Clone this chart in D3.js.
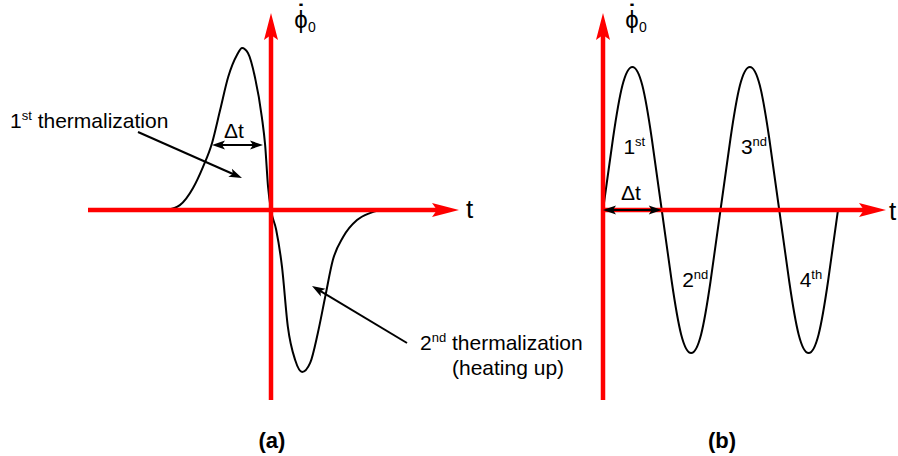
<!DOCTYPE html>
<html lang="en">
<head>
  <meta charset="UTF-8" />
  <title>Thermalization sketch</title>
  <script src="https://d3js.org/d3.v7.min.js"></script>
  <style>
    body { margin: 0; background: #fff; }
    svg { display: block; background: #fff; }
    text { font-family: Arial, "Liberation Sans", sans-serif; fill: #000; }
  </style>
</head>
<body>
  <svg width="898" height="456"></svg>

  <script>
    // (a) single pulse: t in arbitrary units, phi normalised to the peak
    const pulseT   = [-2.84, -2.49, -2.13, -1.86, -1.61, -1.39, -1.17, -0.93, -0.79, -0.63, -0.44, -0.25, -0.16, -0.08, 0,
                      0.14, 0.30, 0.46, 0.66, 0.85, 1.07, 1.28, 1.48, 1.69, 1.97, 2.35, 2.70, 2.98];
    const pulsePhi = [0, 0.03, 0.136, 0.265, 0.414, 0.617, 0.821, 0.957, 1, 0.969, 0.821, 0.574, 0.40, 0.142, 0,
                      -0.12, -0.35, -0.72, -0.926, -1, -0.944, -0.759, -0.537, -0.309, -0.167, -0.062, -0.019, 0];

    // (b) oscillation: t in half periods
    const oscT   = [0, 0.17, 0.33, 0.5, 0.67, 0.83, 1, 1.17, 1.33, 1.5, 1.67, 1.83, 2,
                    2.17, 2.33, 2.5, 2.67, 2.83, 3, 3.17, 3.33, 3.5, 3.67, 3.83, 4];
    const oscPhi = [0, 0.5, 0.87, 1, 0.87, 0.5, 0, -0.5, -0.87, -1, -0.87, -0.5, 0,
                    0.5, 0.87, 1, 0.87, 0.5, 0, -0.5, -0.87, -1, -0.87, -0.5, 0];

    const humpLabels = [
      { t: 0.5, phi: 0.45, base: "1", sup: "st" },
      { t: 2.5, phi: 0.45, base: "3", sup: "nd" },
      { t: 1.5, phi: -0.48, base: "2", sup: "nd" },
      { t: 3.5, phi: -0.48, base: "4", sup: "th" }
    ];

    const svg = d3.select("svg");
    const RED = "#ff0000";

    // scales per panel
    const xA = d3.scaleLinear().domain([-5, 5]).range([88, 454]);
    const yA = d3.scaleLinear().domain([-1, 1]).range([372, 48]);
    const xB = d3.scaleLinear().domain([0, 4.8]).range([603, 885]);
    const yB = d3.scaleLinear().domain([-1, 1]).range([353, 67]);

    // stealth style arrow head, tip at (x,y) pointing along angle (radians)
    function head(g, x, y, ang, len, hw, notch, color) {
      const c = Math.cos(ang), s = Math.sin(ang);
      const pt = (a, b) => [x - a * c - b * s, y - a * s + b * c];
      const p = d3.path();
      const p0 = pt(0, 0), p1 = pt(len, hw), p2 = pt(len - notch, 0), p3 = pt(len, -hw);
      p.moveTo(...p0); p.lineTo(...p1); p.lineTo(...p2); p.lineTo(...p3); p.closePath();
      g.append("path").attr("d", p.toString()).attr("fill", color);
    }

    function axisArrow(g, x1, y1, x2, y2) {
      const ang = Math.atan2(y2 - y1, x2 - x1);
      g.append("line")
        .attr("x1", x1).attr("y1", y1)
        .attr("x2", x2 - 20 * Math.cos(ang)).attr("y2", y2 - 20 * Math.sin(ang))
        .attr("stroke", RED).attr("stroke-width", 4.5);
      head(g, x2, y2, ang, 27, 7, 5, RED);
    }

    function blackArrow(g, x1, y1, x2, y2, both) {
      const ang = Math.atan2(y2 - y1, x2 - x1);
      const back = 8;
      g.append("line")
        .attr("x1", both ? x1 + back * Math.cos(ang) : x1)
        .attr("y1", both ? y1 + back * Math.sin(ang) : y1)
        .attr("x2", x2 - back * Math.cos(ang)).attr("y2", y2 - back * Math.sin(ang))
        .attr("stroke", "#000").attr("stroke-width", 2);
      head(g, x2, y2, ang, 13, 4.5, 3, "#000");
      if (both) head(g, x1, y1, ang + Math.PI, 13, 4.5, 3, "#000");
    }

    function supText(g, x, y, base, sup, size) {
      const t = g.append("text").attr("x", x).attr("y", y).attr("font-size", size);
      t.append("tspan").text(base);
      t.append("tspan").attr("dy", -8).attr("font-size", 13).text(sup);
      return t;
    }

    // phi with a dot above, subscript 0 (x = position of the phi stem)
    function phiLabel(g, x) {
      const t = g.append("text").attr("font-family", "'DejaVu Sans', sans-serif");
      t.append("tspan").attr("x", x).attr("y", 28).attr("text-anchor", "middle")
        .attr("font-size", 24).text("\u03D5");
      t.append("tspan").attr("x", x).attr("y", 21).attr("text-anchor", "middle")
        .attr("font-size", 24).attr("font-weight", "bold").text("\u02D9");
      t.append("tspan").attr("x", x + 7).attr("y", 32).attr("text-anchor", "start")
        .attr("font-family", "Arial, 'Liberation Sans', sans-serif")
        .attr("font-size", 14).text("0");
    }

    const line = (xs, ys) => d3.line()
      .x(i => xs(i.t)).y(i => ys(i.p))
      .curve(d3.curveMonotoneX);

    // ---- panel (a)
    const gA = svg.append("g");
    const pulse = pulseT.map((t, i) => ({ t, p: pulsePhi[i] }));
    gA.append("path").datum(pulse)
      .attr("d", line(xA, yA))
      .attr("fill", "none").attr("stroke", "#000").attr("stroke-width", 2);

    axisArrow(gA, xA(-5), yA(0), 459, yA(0));
    axisArrow(gA, xA(0), 400, xA(0), 13);

    phiLabel(gA, 301);
    gA.append("text").attr("x", 466).attr("y", 218).attr("font-size", 26).text("t");

    supText(gA, 10, 128, "1", "st", 21).append("tspan").attr("dy", 8).text(" thermalization");
    blackArrow(gA, 138, 132, 242, 178, false);

    gA.append("text").attr("x", 234).attr("y", 138).attr("text-anchor", "middle")
      .attr("font-size", 21).text("Δt");
    blackArrow(gA, 212, 145, 263, 145, true);

    supText(gA, 420, 350, "2", "nd", 21).append("tspan").attr("dy", 8).text(" thermalization");
    gA.append("text").attr("x", 452).attr("y", 375).attr("font-size", 21).text("(heating up)");
    blackArrow(gA, 407, 343, 312, 286, false);

    gA.append("text").attr("x", 272).attr("y", 448).attr("text-anchor", "middle")
      .attr("font-size", 22).attr("font-weight", "bold").text("(a)");

    // ---- panel (b)
    const gB = svg.append("g");
    const osc = oscT.map((t, i) => ({ t, p: oscPhi[i] }));
    gB.append("path").datum(osc)
      .attr("d", line(xB, yB).curve(d3.curveNatural))
      .attr("fill", "none").attr("stroke", "#000").attr("stroke-width", 2);

    axisArrow(gB, xB(0) - 2, yB(0), 886, yB(0));
    axisArrow(gB, xB(0), 400, xB(0), 13);

    phiLabel(gB, 632);
    gB.append("text").attr("x", 889).attr("y", 220).attr("font-size", 26).text("t");

    humpLabels.forEach(d => {
      supText(gB, xB(d.t) - 9, yB(d.phi) + 8, d.base, d.sup, 21);
    });

    gB.append("text").attr("x", 631).attr("y", 200).attr("text-anchor", "middle")
      .attr("font-size", 21).text("Δt");
    blackArrow(gB, xB(0), yB(0), xB(1), yB(0), true);

    gB.append("text").attr("x", 722).attr("y", 448).attr("text-anchor", "middle")
      .attr("font-size", 22).attr("font-weight", "bold").text("(b)");
  </script>
</body>
</html>
